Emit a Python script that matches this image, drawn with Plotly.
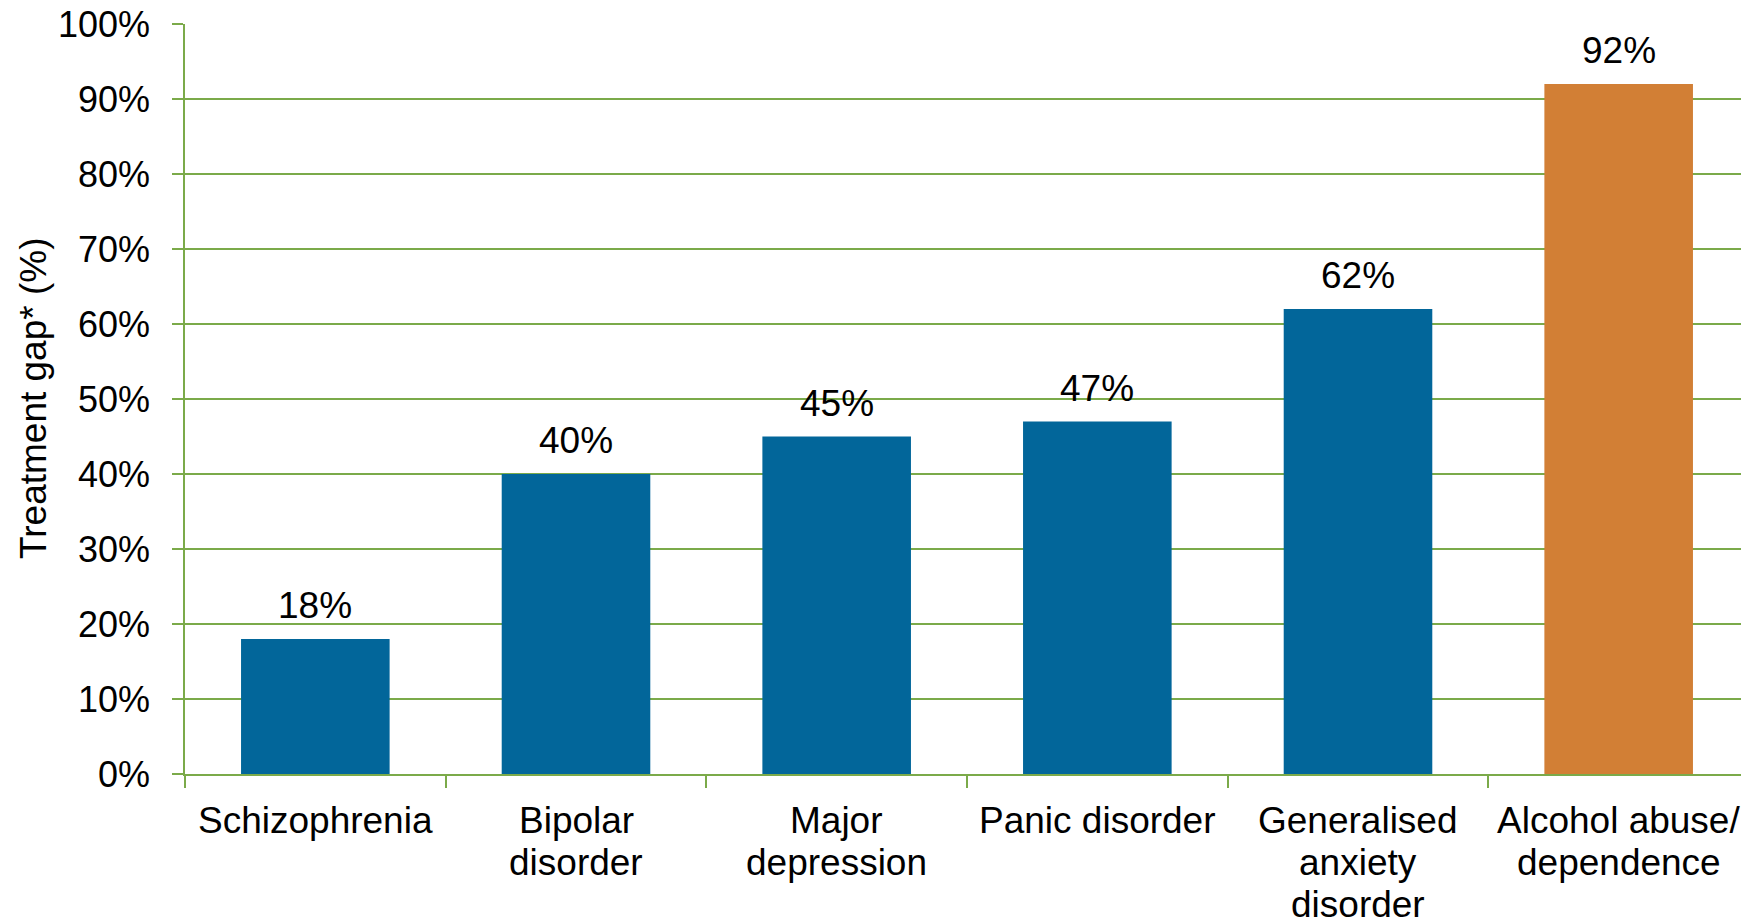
import plotly.graph_objects as go

categories = ["Schizophrenia", "Bipolar disorder", "Major depression", "Panic disorder",
              "Generalised anxiety disorder", "Alcohol abuse/ dependence"]
category_lines = [["Schizophrenia"], ["Bipolar", "disorder"], ["Major", "depression"],
                  ["Panic disorder"], ["Generalised", "anxiety", "disorder"],
                  ["Alcohol abuse/", "dependence"]]
values = [18, 40, 45, 47, 62, 92]
bar_colors = ["#02669A", "#02669A", "#02669A", "#02669A", "#02669A", "#D27F35"]
y_ticks = [0, 10, 20, 30, 40, 50, 60, 70, 80, 90, 100]
y_title = "Treatment gap* (%)"

GREEN = "#7BAA4A"
FONT = "Liberation Sans, Arial, sans-serif"
FS = 37

# page body has an 8px default margin; compensate so the plot lands where the reference is
W, H = 1741, 914
L, T, B = 177, 16, 148
PW = W - L

fig = go.Figure()
fig.add_trace(go.Bar(x=categories, y=values, marker=dict(color=bar_colors, line=dict(width=0)),
                     showlegend=False, hoverinfo="skip"))

for c, v in zip(categories, values):
    fig.add_annotation(x=c, y=v, text=f"{v}%", showarrow=False, yanchor="bottom",
                       yshift=11, font=dict(family=FONT, size=FS, color="black"))

# category labels, one text per line with tighter line spacing than plotly's default
for c, lines in zip(categories, category_lines):
    for i, line in enumerate(lines):
        fig.add_annotation(x=c, y=0, text=line, showarrow=False, xanchor="center",
                           yanchor="middle", yshift=-(46 + 42.3 * i),
                           font=dict(family=FONT, size=FS, color="black"))

fig.add_annotation(xref="paper", yref="paper", x=(33 - 185) / PW, y=0.5, text=y_title,
                   textangle=-90, showarrow=False, xanchor="center", yanchor="middle",
                   font=dict(family=FONT, size=FS, color="black"))

fig.update_layout(
    width=W, height=H,
    margin=dict(l=L, r=0, t=T, b=B, autoexpand=False),
    plot_bgcolor="white", paper_bgcolor="white",
    bargap=0.43,
    font=dict(family=FONT, size=FS, color="black"),
)
fig.update_xaxes(showline=True, linecolor=GREEN, linewidth=1.5,
                 ticks="outside", tickson="boundaries", ticklen=12, tickcolor=GREEN, tickwidth=1.5,
                 showgrid=False, showticklabels=False, automargin=False)
fig.update_yaxes(range=[0, 100], tickvals=y_ticks, ticktext=[f"{t}%" for t in y_ticks],
                 showline=True, linecolor=GREEN, linewidth=1.5,
                 ticks="outside", ticklen=11, tickcolor=GREEN, tickwidth=1.5,
                 showgrid=True, gridcolor=GREEN, gridwidth=1.5, zeroline=False,
                 ticklabelstandoff=15, automargin=False, ticklabeloverflow="allow",
                 tickfont=dict(family=FONT, size=36, color="black"))

fig.write_html("out.html")
